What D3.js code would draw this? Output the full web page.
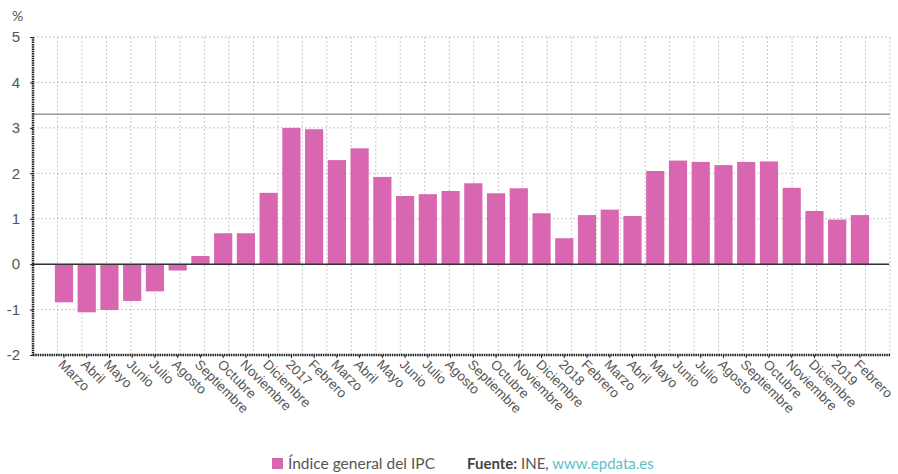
<!DOCTYPE html>
<html>
<head>
<meta charset="utf-8">
<script src="https://cdn.jsdelivr.net/npm/d3@7"></script>
<style>
  body { margin: 0; background: #fff; }
  svg { font-family: "Source Sans Pro", Lato, "Open Sans", sans-serif; }
</style>
</head>
<body>
<svg id="chart" width="898" height="474"></svg>
<script>
// Months (Marzo 2016 - Febrero 2019)
const months = ["Marzo", "Abril", "Mayo", "Junio", "Julio", "Agosto", "Septiembre", "Octubre", "Noviembre", "Diciembre",
    "2017", "Febrero", "Marzo", "Abril", "Mayo", "Junio", "Julio", "Agosto", "Septiembre", "Octubre", "Noviembre", "Diciembre",
    "2018", "Febrero", "Marzo", "Abril", "Mayo", "Junio", "Julio", "Agosto", "Septiembre", "Octubre", "Noviembre", "Diciembre",
    "2019", "Febrero"];

// IPC annual variation (%)
const ipc = [-0.84, -1.06, -1.01, -0.81, -0.6, -0.14, 0.18, 0.68, 0.68, 1.57,
    3.0, 2.97, 2.29, 2.55, 1.92, 1.5, 1.54, 1.61, 1.78, 1.56, 1.67, 1.12,
    0.57, 1.08, 1.2, 1.06, 2.05, 2.28, 2.25, 2.18, 2.25, 2.26, 1.68, 1.17,
    0.98, 1.08];

const yTicks = [-2, -1, 0, 1, 2, 3, 4, 5];
const refLine = 3.3;

const data = months.map((m, i) => ({id: i, label: m, value: ipc[i]}));

const plot = {left: 33, right: 890, top: 37, bottom: 355};
const svg = d3.select("#chart");

const y = d3.scaleLinear()
    .domain([-2, 5])
    .range([plot.bottom, plot.top]);

const x = d3.scaleBand()
    .domain(data.map(d => d.id))
    .range([52.6, 871.3])
    .paddingInner(0.2)
    .paddingOuter(0.1);

// Grid
const grid = svg.append("g");
grid.selectAll(".hgrid")
    .data(yTicks.filter(t => t > -2))
    .join("line")
    .attr("x1", plot.left).attr("x2", plot.right)
    .attr("y1", d => y(d)).attr("y2", d => y(d))
    .attr("stroke", "#c8c8c8")
    .attr("stroke-dasharray", "2,2");

const vgrid = d3.range(1, 36).map(k => plot.left + k * (plot.right - plot.left) / 35);
grid.selectAll(".vgrid")
    .data(vgrid)
    .join("line")
    .attr("x1", d => d).attr("x2", d => d)
    .attr("y1", plot.top).attr("y2", plot.bottom)
    .attr("stroke", "#c8c8c8")
    .attr("stroke-dasharray", "2,2");

// Reference line
svg.append("line")
    .attr("x1", plot.left).attr("x2", plot.right)
    .attr("y1", y(refLine)).attr("y2", y(refLine))
    .attr("stroke", "#999")
    .attr("stroke-width", 1.5);

// Bars
svg.selectAll(".bar")
    .data(data)
    .join("rect")
    .attr("class", "bar")
    .attr("x", d => x(d.id))
    .attr("width", x.bandwidth())
    .attr("y", d => y(Math.max(0, d.value)))
    .attr("height", d => Math.abs(y(d.value) - y(0)))
    .attr("fill", "#d966b0");

// Zero line
svg.append("line")
    .attr("x1", plot.left).attr("x2", plot.right - 1)
    .attr("y1", y(0)).attr("y2", y(0))
    .attr("stroke", "#333")
    .attr("stroke-width", 1.5);

// Y axis
const yAxis = svg.append("g")
    .attr("transform", `translate(${plot.left},0)`)
    .call(d3.axisLeft(y).tickValues(yTicks).tickSize(3).tickFormat(d => String(d)));
yAxis.select(".domain").attr("stroke", "#222").attr("stroke-width", 2.5).attr("stroke-dasharray", "1.5,0.8")
    .attr("d", `M0,${plot.top}V${plot.bottom}`);
yAxis.selectAll(".tick line").attr("stroke", "#222");
yAxis.selectAll(".tick text")
    .attr("x", -13)
    .attr("fill", "#555")
    .style("font-size", "15px");

svg.append("text")
    .attr("x", 12).attr("y", 21)
    .attr("fill", "#555")
    .style("font-size", "14px")
    .text("%");

// X axis
const xAxis = svg.append("g")
    .attr("transform", `translate(0,${plot.bottom})`)
    .call(d3.axisBottom(x).tickSize(3).tickFormat(i => months[i]));
xAxis.select(".domain").attr("stroke", "#222").attr("stroke-width", 2.5).attr("stroke-dasharray", "1.5,0.8")
    .attr("d", `M${plot.left},0H${plot.right}`);
xAxis.selectAll(".tick line").attr("stroke", "#222");
xAxis.selectAll(".tick text")
    .attr("fill", "#555")
    .style("font-size", "13.5px")
    .attr("text-anchor", "start")
    .attr("transform", "translate(-3,7) rotate(45)")
    .attr("dy", "0.35em")
    .attr("y", 0)
    .attr("x", 0);

// Legend
const legend = svg.append("g").attr("transform", "translate(272,458)");
legend.append("rect")
    .attr("width", 11).attr("height", 11)
    .attr("fill", "#d966b0");
legend.append("text")
    .attr("x", 16).attr("y", 11)
    .attr("fill", "#555")
    .style("font-size", "15.5px")
    .text("Índice general del IPC");

const src = svg.append("text")
    .attr("x", 467).attr("y", 469)
    .style("font-size", "15px")
    .attr("fill", "#444");
src.append("tspan").style("font-weight", "bold").text("Fuente:");
src.append("tspan").attr("fill", "#555").text(" INE, ");
src.append("tspan").attr("fill", "#5bbfc9").text("www.epdata.es");
</script>
</body>
</html>
